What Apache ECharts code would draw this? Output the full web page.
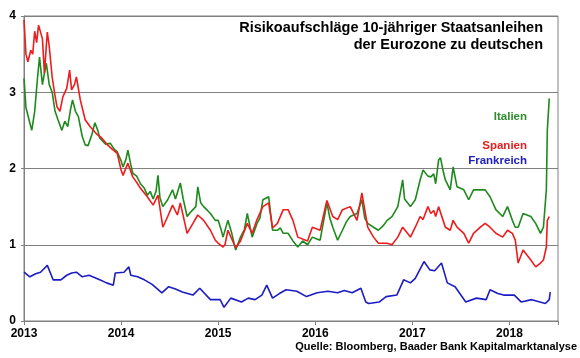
<!DOCTYPE html>
<html><head><meta charset="utf-8">
<script src="https://cdn.jsdelivr.net/npm/echarts@6/dist/echarts.min.js"></script>
<style>html,body{margin:0;padding:0;background:#fff}#c{width:580px;height:358px}</style>
</head><body><div id="c"></div><script>
const yearTicks = [2013, 2014, 2015, 2016, 2017, 2018];
const titleLines = ['Risikoaufschläge 10-jähriger Staatsanleihen', 'der Eurozone zu deutschen'];
const seriesNames = ['Italien', 'Spanien', 'Frankreich'];
const sourceText = 'Quelle: Bloomberg, Baader Bank Kapitalmarktanalyse';

const italyData = [
[2013.00,3.18],[2013.02,2.8],[2013.05,2.65],[2013.08,2.5],[2013.11,2.75],[2013.14,3.2],[2013.16,3.46],[2013.19,3.1],[2013.21,3.25],[2013.23,3.38],[2013.26,3.1],[2013.29,3.0],[2013.32,2.75],[2013.35,2.64],[2013.39,2.5],[2013.42,2.62],[2013.45,2.55],[2013.48,2.78],[2013.50,2.9],[2013.53,2.75],[2013.56,2.68],[2013.60,2.42],[2013.63,2.31],[2013.66,2.3],[2013.70,2.45],[2013.73,2.6],[2013.76,2.5],[2013.78,2.4],[2013.84,2.32],[2013.89,2.33],[2013.93,2.25],[2013.96,2.22],[2014.00,2.1],[2014.02,2.02],[2014.05,2.12],[2014.07,2.24],[2014.10,2.05],[2014.12,1.94],[2014.16,1.9],[2014.20,1.8],[2014.24,1.74],[2014.27,1.65],[2014.30,1.7],[2014.33,1.6],[2014.36,1.7],[2014.38,1.91],[2014.40,1.62],[2014.43,1.5],[2014.48,1.59],[2014.53,1.72],[2014.56,1.6],[2014.58,1.59],[2014.61,1.81],[2014.64,1.6],[2014.68,1.37],[2014.71,1.42],[2014.74,1.46],[2014.77,1.5],[2014.79,1.76],[2014.82,1.55],[2014.85,1.5],[2014.89,1.45],[2014.92,1.41],[2014.97,1.32],[2015.00,1.32],[2015.03,1.2],[2015.05,1.1],[2015.10,1.32],[2015.14,1.15],[2015.18,0.93],[2015.23,1.1],[2015.27,1.2],[2015.30,1.41],[2015.35,1.1],[2015.40,1.28],[2015.43,1.35],[2015.46,1.59],[2015.52,1.63],[2015.56,1.19],[2015.61,1.19],[2015.64,1.22],[2015.67,1.15],[2015.72,1.15],[2015.77,1.05],[2015.82,0.97],[2015.87,1.05],[2015.92,1.0],[2015.97,1.1],[2016.01,1.08],[2016.05,1.06],[2016.12,1.55],[2016.15,1.35],[2016.18,1.23],[2016.23,1.06],[2016.28,1.19],[2016.32,1.3],[2016.36,1.37],[2016.43,1.41],[2016.48,1.59],[2016.51,1.35],[2016.54,1.28],[2016.60,1.23],[2016.65,1.19],[2016.70,1.25],[2016.74,1.32],[2016.79,1.37],[2016.85,1.5],[2016.90,1.85],[2016.92,1.6],[2016.95,1.55],[2016.98,1.5],[2017.03,1.59],[2017.08,1.85],[2017.11,1.98],[2017.16,1.9],[2017.19,1.89],[2017.22,1.93],[2017.24,1.8],[2017.27,2.11],[2017.29,2.14],[2017.32,1.95],[2017.34,1.85],[2017.39,1.72],[2017.42,2.02],[2017.46,1.76],[2017.53,1.72],[2017.58,1.59],[2017.63,1.72],[2017.70,1.72],[2017.75,1.72],[2017.80,1.63],[2017.86,1.46],[2017.93,1.37],[2017.98,1.5],[2018.03,1.32],[2018.06,1.23],[2018.09,1.23],[2018.14,1.41],[2018.22,1.37],[2018.27,1.28],[2018.32,1.15],[2018.35,1.23],[2018.38,1.72],[2018.39,2.5],[2018.41,2.92]
];

const spainData = [
[2013.00,3.95],[2013.02,3.5],[2013.04,3.4],[2013.07,3.55],[2013.09,3.5],[2013.11,3.8],[2013.13,3.65],[2013.15,3.88],[2013.19,3.7],[2013.21,3.25],[2013.24,3.79],[2013.26,3.6],[2013.29,3.2],[2013.32,2.95],[2013.34,2.81],[2013.37,2.75],[2013.40,2.94],[2013.44,3.05],[2013.47,3.29],[2013.49,3.03],[2013.52,3.1],[2013.54,3.2],[2013.58,2.9],[2013.63,2.64],[2013.68,2.55],[2013.75,2.45],[2013.80,2.4],[2013.86,2.31],[2013.91,2.25],[2013.96,2.2],[2014.00,1.98],[2014.02,1.91],[2014.07,2.07],[2014.12,1.89],[2014.16,1.82],[2014.20,1.74],[2014.27,1.63],[2014.33,1.52],[2014.38,1.65],[2014.43,1.23],[2014.48,1.37],[2014.53,1.52],[2014.58,1.39],[2014.61,1.55],[2014.68,1.15],[2014.74,1.28],[2014.79,1.39],[2014.85,1.32],[2014.92,1.19],[2014.97,1.06],[2015.00,1.02],[2015.05,0.97],[2015.07,1.0],[2015.10,1.19],[2015.18,0.96],[2015.23,1.05],[2015.30,1.28],[2015.35,1.15],[2015.40,1.33],[2015.46,1.5],[2015.52,1.55],[2015.56,1.22],[2015.61,1.28],[2015.67,1.46],[2015.72,1.46],[2015.77,1.32],[2015.82,1.1],[2015.92,1.05],[2015.97,1.23],[2016.05,1.19],[2016.12,1.58],[2016.18,1.37],[2016.23,1.33],[2016.28,1.46],[2016.36,1.5],[2016.43,1.32],[2016.48,1.68],[2016.54,1.23],[2016.60,1.1],[2016.65,1.02],[2016.74,1.02],[2016.79,1.0],[2016.85,1.1],[2016.90,1.23],[2016.95,1.15],[2016.98,1.1],[2017.03,1.23],[2017.08,1.37],[2017.11,1.33],[2017.16,1.5],[2017.19,1.41],[2017.22,1.45],[2017.24,1.37],[2017.27,1.5],[2017.29,1.52],[2017.34,1.23],[2017.39,1.19],[2017.42,1.32],[2017.46,1.23],[2017.53,1.15],[2017.58,1.02],[2017.63,1.15],[2017.70,1.23],[2017.75,1.28],[2017.80,1.23],[2017.86,1.15],[2017.93,1.1],[2017.98,1.19],[2018.03,1.15],[2018.06,1.06],[2018.09,0.76],[2018.14,0.93],[2018.22,0.8],[2018.27,0.71],[2018.32,0.76],[2018.35,0.8],[2018.38,0.97],[2018.39,1.32],[2018.41,1.37]
];

const franceData = [
[2013.00,0.64],[2013.06,0.58],[2013.12,0.62],[2013.17,0.64],[2013.24,0.73],[2013.30,0.54],[2013.38,0.54],[2013.44,0.6],[2013.49,0.63],[2013.54,0.64],[2013.60,0.58],[2013.67,0.6],[2013.78,0.54],[2013.85,0.5],[2013.92,0.47],[2013.94,0.63],[2014.03,0.64],[2014.08,0.71],[2014.10,0.6],[2014.17,0.58],[2014.24,0.54],[2014.32,0.48],[2014.42,0.37],[2014.49,0.45],[2014.56,0.42],[2014.63,0.38],[2014.74,0.34],[2014.81,0.43],[2014.92,0.28],[2015.02,0.28],[2015.06,0.18],[2015.13,0.3],[2015.24,0.25],[2015.31,0.3],[2015.38,0.28],[2015.45,0.34],[2015.50,0.47],[2015.56,0.3],[2015.63,0.36],[2015.70,0.41],[2015.81,0.39],[2015.91,0.32],[2016.02,0.37],[2016.13,0.39],[2016.23,0.37],[2016.30,0.4],[2016.38,0.37],[2016.47,0.43],[2016.52,0.25],[2016.55,0.23],[2016.66,0.25],[2016.73,0.32],[2016.84,0.34],[2016.91,0.54],[2016.98,0.5],[2017.03,0.56],[2017.12,0.78],[2017.18,0.67],[2017.23,0.66],[2017.30,0.76],[2017.36,0.5],[2017.44,0.45],[2017.55,0.25],[2017.66,0.3],[2017.76,0.28],[2017.80,0.41],[2017.88,0.36],[2017.94,0.34],[2018.05,0.34],[2018.12,0.25],[2018.23,0.28],[2018.37,0.23],[2018.41,0.28],[2018.42,0.38]
];

const font = 'Liberation Sans, Arial, sans-serif';
const chart = echarts.init(document.getElementById('c'), null, {renderer: 'canvas'});
chart.setOption({
  animation: false,
  backgroundColor: '#fff',
  grid: {left: 24, right: 22, top: 16, bottom: 37, show: true, borderColor: '#808080', borderWidth: 1},
  xAxis: {
    type: 'value', min: yearTicks[0], max: 2018.5, interval: 1,
    axisLine: {show: true, lineStyle: {color: '#808080', width: 1}},
    axisTick: {show: true, length: 4, lineStyle: {color: '#808080'}},
    axisLabel: {color: '#000', fontWeight: 'bold', fontSize: 12, fontFamily: font, margin: 7,
      formatter: v => yearTicks.includes(v) ? String(v) : ''},
    splitLine: {show: false}
  },
  yAxis: {
    type: 'value', min: 0, max: 4, interval: 1,
    axisLine: {show: true, lineStyle: {color: '#808080', width: 1}},
    axisTick: {show: true, length: 3, lineStyle: {color: '#808080'}},
    axisLabel: {color: '#000', fontWeight: 'bold', fontSize: 12, fontFamily: font, margin: 8},
    splitLine: {show: true, lineStyle: {color: '#808080', width: 1}}
  },
  series: [
    {name: seriesNames[2], type: 'line', data: franceData, showSymbol: false, lineStyle: {color: '#1c1cc4', width: 1.6}},
    {name: seriesNames[0], type: 'line', data: italyData, showSymbol: false, lineStyle: {color: '#1e8a1e', width: 1.6}},
    {name: seriesNames[1], type: 'line', data: spainData, showSymbol: false, lineStyle: {color: '#ee1c1c', width: 1.6}}
  ],
  graphic: [
    {type: 'text', x: 543, y: 28, style: {text: titleLines[0], align: 'right', verticalAlign: 'middle', font: 'bold 14.5px ' + font, fill: '#000'}},
    {type: 'text', x: 543, y: 45, style: {text: titleLines[1], align: 'right', verticalAlign: 'middle', font: 'bold 14.5px ' + font, fill: '#000'}},
    {type: 'text', x: 527, y: 117, style: {text: seriesNames[0], align: 'right', verticalAlign: 'middle', font: 'bold 11.5px ' + font, fill: '#2e8b2e'}},
    {type: 'text', x: 527, y: 146, style: {text: seriesNames[1], align: 'right', verticalAlign: 'middle', font: 'bold 11.5px ' + font, fill: '#e52020'}},
    {type: 'text', x: 527, y: 161, style: {text: seriesNames[2], align: 'right', verticalAlign: 'middle', font: 'bold 11.5px ' + font, fill: '#2020c0'}},
    {type: 'text', x: 577, y: 347, style: {text: sourceText, align: 'right', verticalAlign: 'middle', font: 'bold 11px ' + font, fill: '#000'}}
  ]
});
</script></body></html>
